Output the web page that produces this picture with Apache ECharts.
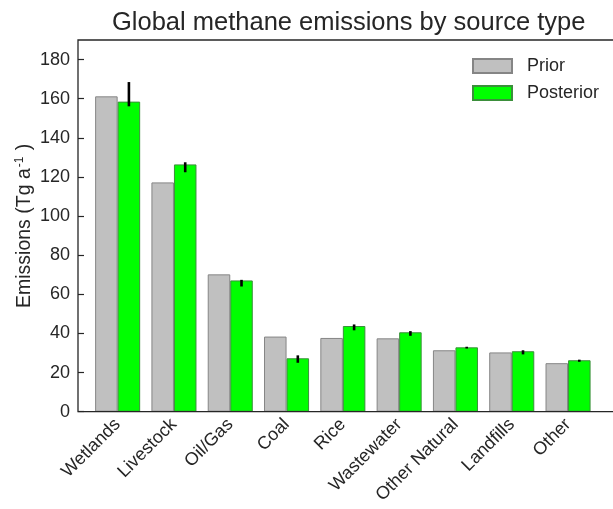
<!DOCTYPE html>
<html>
<head>
<meta charset="utf-8">
<script src="https://cdn.jsdelivr.net/npm/echarts@6/dist/echarts.min.js"></script>
<style>
  html, body { margin: 0; padding: 0; background: #fff; overflow: hidden; }
  #chart { width: 613px; height: 509px; }
</style>
</head>
<body>
<div id="chart"></div>
<script>
// Source categories and emission estimates (Tg a^-1)
const categories = ['Wetlands', 'Livestock', 'Oil/Gas', 'Coal', 'Rice', 'Wastewater', 'Other Natural', 'Landfills', 'Other'];
const prior = [161.2, 117.2, 70.2, 38.4, 37.7, 37.5, 31.4, 30.3, 24.8];
const posterior = [158.5, 126.4, 67.1, 27.3, 43.8, 40.6, 32.9, 30.9, 26.3];
// Uncertainty range of the posterior estimate
const errLow = [156.1, 122.4, 64.0, 25.0, 41.6, 38.8, 32.3, 29.3, 25.5];
const errHigh = [168.5, 127.5, 67.4, 28.8, 44.6, 41.2, 33.2, 31.4, 26.6];
const yTicks = { min: 0, max: 190, interval: 20 };

const FONT = '"Liberation Sans", Arial, sans-serif';
const INK = '#262626';

const chart = echarts.init(document.getElementById('chart'), null, { renderer: 'canvas' });

const errData = categories.map((c, i) => [i, errLow[i], errHigh[i]]);

// Frame: left spine plus top and bottom spines running off the right edge
const frame = { left: 78, top: 40, bottom: 411.7 };
const W = chart.getWidth();

chart.setOption({
  backgroundColor: '#ffffff',
  animation: false,
  textStyle: { fontFamily: FONT },
  title: {
    text: 'Global methane emissions by source type',
    left: 112,
    top: 10,
    padding: 0,
    textStyle: { fontFamily: FONT, fontSize: 25.5, fontWeight: 'normal', color: INK }
  },
  legend: {
    orient: 'vertical',
    left: 472,
    top: 57,
    padding: 0,
    itemWidth: 39,
    itemHeight: 14,
    itemGap: 9,
    icon: 'rect',
    data: ['Prior', 'Posterior'],
    textStyle: { fontFamily: FONT, fontSize: 18, color: INK, padding: [0, 0, 0, 10] }
  },
  grid: { left: 89.5, right: 16.8, top: 40, bottom: 97.3 },
  graphic: [{
    type: 'polyline',
    z: 5,
    silent: true,
    shape: { points: [[W + 5, frame.top], [frame.left, frame.top], [frame.left, frame.bottom], [W + 5, frame.bottom]] },
    style: { stroke: INK, lineWidth: 1.3, fill: null }
  }],
  xAxis: {
    type: 'category',
    data: categories,
    axisLine: { show: false },
    axisTick: { show: false },
    axisLabel: { rotate: 45, fontFamily: FONT, fontSize: 18, color: INK, margin: 10, interval: 0 }
  },
  yAxis: {
    type: 'value',
    min: yTicks.min,
    max: yTicks.max,
    interval: yTicks.interval,
    offset: 11.5,
    splitLine: { show: false },
    axisLine: { show: false },
    axisTick: { show: true, inside: true, length: 6, lineStyle: { color: INK, width: 1.2 } },
    axisLabel: { fontFamily: FONT, fontSize: 18, color: INK, margin: 8, showMaxLabel: false },
    name: 'Emissions (Tg a{sup|-1} )',
    nameLocation: 'middle',
    nameGap: 42,
    nameMoveOverlap: false,
    nameRotate: 90,
    nameTextStyle: {
      fontFamily: FONT, fontSize: 19.5, color: INK,
      rich: { sup: { fontFamily: FONT, fontSize: 12, color: INK, verticalAlign: 'top', padding: [0, 1, 10, 1] } }
    }
  },
  series: [
    {
      name: 'Prior',
      type: 'bar',
      data: prior,
      barGap: '0%',
      barCategoryGap: '20%',
      itemStyle: { color: '#c0c0c0', borderColor: '#858585', borderWidth: 1 }
    },
    {
      name: 'Posterior',
      type: 'bar',
      data: posterior,
      barGap: '0%',
      barCategoryGap: '20%',
      itemStyle: { color: '#00ff00', borderColor: '#3b8f3b', borderWidth: 1 }
    },
    {
      name: 'error',
      type: 'custom',
      data: errData,
      z: 10,
      encode: { x: 0, y: [1, 2] },
      renderItem: function (params, api) {
        const i = api.value(0);
        const lo = api.coord([i, api.value(1)]);
        const hi = api.coord([i, api.value(2)]);
        const band = api.size([1, 0])[0];
        const x = lo[0] + band * 0.2;
        return {
          type: 'line',
          shape: { x1: x, y1: lo[1], x2: x, y2: hi[1] },
          style: { stroke: '#000', lineWidth: 2.6 }
        };
      }
    }
  ]
});
</script>
</body>
</html>
